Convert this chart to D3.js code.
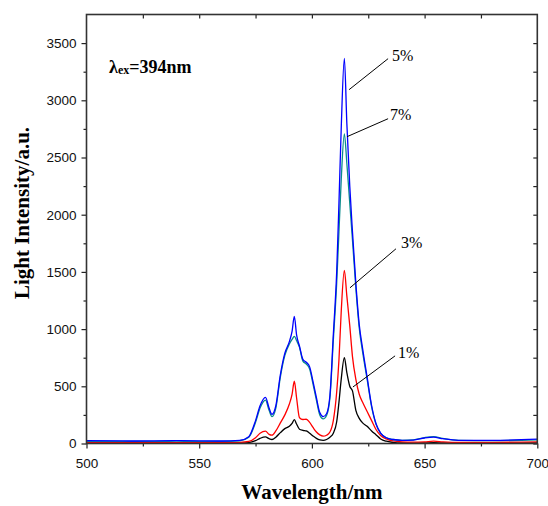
<!DOCTYPE html>
<html>
  <head>
    <meta charset="UTF-8" />
    <script src="https://cdnjs.cloudflare.com/ajax/libs/d3/7.8.5/d3.min.js"></script>
    <style>
      body { margin: 0; background: #fff; }
      svg { display: block; }
    </style>
  </head>
  <body>
    <div id="viz"><svg style="width:548px;height:506px;"></svg></div>
    <script>
      // wavelength grid (nm)
      const wavelengths = [500, 520, 540, 560, 568, 572, 575, 577, 579.4, 581, 582.3, 584, 586, 588, 590, 591.2,
        592.2, 593.2, 594.5, 596, 597.5, 599, 600.5, 602, 603.5, 605, 606.5, 608, 609.5, 611, 612, 613, 614.4,
        615.5, 616.8, 618, 619.5, 621, 622.5, 624.5, 626.5, 628.5, 630.5, 633, 636, 640, 645, 650, 654, 658,
        665, 680, 700];

      const conc1 = [3, 3, 3, 3, 4, 8, 25, 45, 58, 42, 35, 55, 95, 130, 150, 175,
        209, 170, 125, 115, 110, 90, 66, 45, 32, 28, 35, 55, 90, 190, 360, 560, 750,
        620, 500, 460, 290, 220, 180, 150, 110, 75, 40, 20, 10, 5, 4, 5, 7, 5,
        3, 3, 5];
      const conc3 = [8, 8, 8, 8, 10, 18, 50, 90, 108, 80, 73, 110, 180, 250, 345, 430,
        544, 400, 225, 210, 212, 185, 140, 100, 75, 64, 72, 100, 200, 450, 730, 1150, 1513,
        1290, 1030, 760, 560, 430, 360, 280, 200, 120, 70, 40, 22, 14, 12, 15, 20, 15,
        10, 10, 14];
      const conc5 = [25, 22, 25, 22, 28, 60, 200, 330, 404, 310, 255, 330, 600, 790, 890, 980,
        1111, 950, 850, 735, 710, 670, 540, 400, 270, 235, 260, 420, 950, 1500, 2100, 2750, 3366,
        2800, 2250, 1850, 1400, 1040, 830, 580, 330, 170, 90, 50, 35, 28, 30, 48, 55, 42,
        28, 28, 38];
      const conc7 = [18, 18, 20, 18, 24, 55, 185, 310, 380, 290, 235, 310, 580, 770, 870, 910,
        936, 900, 840, 720, 695, 650, 520, 380, 250, 215, 245, 400, 900, 1400, 1850, 2300, 2706,
        2450, 2100, 1780, 1360, 1010, 800, 560, 320, 165, 88, 50, 35, 28, 32, 52, 60, 45,
        28, 25, 32];

      const seriesNames = ["1%", "3%", "7%", "5%"];
      const seriesValues = [conc1, conc3, conc7, conc5];
      const seriesColors = ["#000000", "#ff0000", "#0a8c8c", "#0000ff"];

      const xTicks = [500, 550, 600, 650, 700];
      const xMinor = [525, 575, 625, 675];
      const yTicks = [0, 500, 1000, 1500, 2000, 2500, 3000, 3500];
      const yMinor = [250, 750, 1250, 1750, 2250, 2750, 3250];

      // label anchors [wavelength, intensity] and leader line ends
      const labelNames = ["5%", "7%", "3%", "1%"];
      const labelPos = [[635.5, 3347], [634.6, 2831], [639.5, 1711], [638.2, 748]];
      const leaderFrom = [[633.8, 3364], [633.8, 2839], [637.3, 1702], [636.9, 766]];
      const leaderTo = [[616.5, 3093], [615.6, 2682], [616.9, 1361], [618.2, 494]];

      const svg = d3.select("svg");
      const pLeft = 86.5, pRight = 537.3, pTop = 14.5, pBottom = 443.5;

      const xScale = d3.scaleLinear().domain([500, 700]).range([pLeft, pRight]);
      const yScale = d3.scaleLinear().domain([0, 3750]).range([pBottom, pTop]);

      const tickFont = "'Liberation Sans', Arial, sans-serif";
      const serif = "'Liberation Serif', 'Times New Roman', serif";

      function styleAxis(g) {
        g.select(".domain").remove();
        g.selectAll("line").attr("stroke", "#222").attr("stroke-width", 1.2);
        g.selectAll("text").attr("font-family", tickFont).attr("font-size", 13.5).attr("fill", "#111");
      }

      // bottom
      svg.append("g").attr("transform", `translate(0,${pBottom})`)
        .call(d3.axisBottom(xScale).tickValues(xTicks).tickSize(5).tickPadding(10).tickFormat(d3.format("d")))
        .call(styleAxis);
      svg.append("g").attr("transform", `translate(0,${pBottom})`)
        .call(d3.axisBottom(xScale).tickValues(xMinor).tickSize(3).tickFormat(""))
        .call(styleAxis);
      // left
      svg.append("g").attr("transform", `translate(${pLeft},0)`)
        .call(d3.axisLeft(yScale).tickValues(yTicks).tickSize(5).tickPadding(5).tickFormat(d3.format("d")))
        .call(styleAxis);
      svg.append("g").attr("transform", `translate(${pLeft},0)`)
        .call(d3.axisLeft(yScale).tickValues(yMinor).tickSize(3).tickFormat(""))
        .call(styleAxis);
      // top and right, ticks inward
      svg.append("g").attr("transform", `translate(0,${pTop})`)
        .call(d3.axisTop(xScale).tickValues(xMinor.concat([550, 600, 650])).tickSize(-4).tickFormat(""))
        .call(styleAxis);
      svg.append("g").attr("transform", `translate(${pRight},0)`)
        .call(d3.axisRight(yScale).tickValues(yTicks.concat(yMinor)).tickSize(-4).tickFormat(""))
        .call(styleAxis);

      // spectra
      const line = d3.line()
        .x((d, i) => xScale(wavelengths[i]))
        .y(d => yScale(d))
        .curve(d3.curveMonotoneX);

      svg.append("g").selectAll("path.spec")
        .data(seriesValues)
        .enter()
        .append("path")
        .attr("class", "spec")
        .attr("d", d => line(d))
        .attr("fill", "none")
        .attr("stroke", (d, i) => seriesColors[i])
        .attr("stroke-width", 1.3);

      // frame
      svg.append("rect")
        .attr("x", pLeft).attr("y", pTop)
        .attr("width", pRight - pLeft).attr("height", pBottom - pTop)
        .attr("fill", "none").attr("stroke", "#333").attr("stroke-width", 1.6);

      // leader lines and labels
      svg.append("g").selectAll("line")
        .data(labelNames)
        .enter()
        .append("line")
        .attr("x1", (d, i) => xScale(leaderFrom[i][0]))
        .attr("y1", (d, i) => yScale(leaderFrom[i][1]))
        .attr("x2", (d, i) => xScale(leaderTo[i][0]))
        .attr("y2", (d, i) => yScale(leaderTo[i][1]))
        .attr("stroke", "#000").attr("stroke-width", 1);

      svg.append("g").selectAll("text")
        .data(labelNames)
        .enter()
        .append("text")
        .attr("x", (d, i) => xScale(labelPos[i][0]))
        .attr("y", (d, i) => yScale(labelPos[i][1]))
        .attr("font-family", serif).attr("font-size", 16)
        .text(d => d);

      // excitation note
      const note = svg.append("text")
        .attr("x", xScale(510)).attr("y", yScale(3242))
        .attr("font-family", serif).attr("font-weight", "bold").attr("font-size", 18);
      note.append("tspan").text("λ");
      note.append("tspan").attr("font-size", 12).attr("dy", 1).text("ex");
      note.append("tspan").attr("dy", -1).text("=394nm");

      // axis titles
      svg.append("text")
        .attr("x", (pLeft + pRight) / 2).attr("y", 499)
        .attr("text-anchor", "middle")
        .attr("font-family", serif).attr("font-weight", "bold").attr("font-size", 21)
        .text("Wavelength/nm");
      svg.append("text")
        .attr("transform", "translate(29,213) rotate(-90)")
        .attr("text-anchor", "middle")
        .attr("font-family", serif).attr("font-weight", "bold").attr("font-size", 21)
        .text("Light Intensity/a.u.");
    </script>
  </body>
</html>
